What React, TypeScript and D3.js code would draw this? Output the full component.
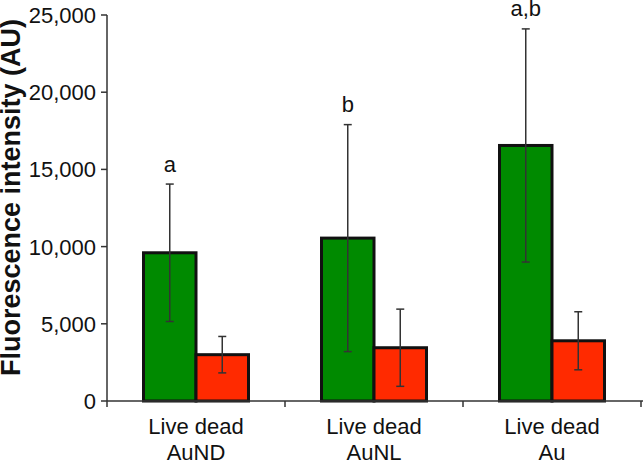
import React from "react";
import * as d3 from "d3";

const categories = ["AuND", "AuNL", "Au"];
const series = ["Live", "dead"];
const liveValues = [9600, 10550, 16550];
const liveErrors = [4450, 7350, 7550];
const deadValues = [3000, 3450, 3900];
const deadErrors = [1180, 2500, 1880];
const sigLabels = ["a", "b", "a,b"];
const yTicks = [0, 5000, 10000, 15000, 20000, 25000];

const W = 643;
const H = 462;
const left = 107;
const right = 641;
const top = 15;
const bottom = 401;
const font = "'Liberation Sans', Arial, sans-serif";
const colors = ["#008a00", "#ff2a00"];

export default function App() {
  const x = d3.scaleBand<string>().domain(categories).range([left, right]).padding(0);
  const y = d3.scaleLinear().domain([0, 25000]).range([bottom, top]);
  const groupW = 105;
  const inner = d3.scaleBand<string>().domain(series).range([0, groupW]).padding(0);
  const fmt = d3.format(",");
  const vals = [liveValues, deadValues];
  const errs = [liveErrors, deadErrors];

  return (
    <svg width={W} height={H} style={{ position: "absolute", left: 0, top: 0 }} fontFamily={font}>
      <rect width={W} height={H} fill="#fff" />
      {categories.map((c, i) => {
        const gx = (x(c) as number) + (x.bandwidth() - groupW) / 2;
        return (
          <g key={c}>
            {series.map((s, si) => {
              const bx = gx + (inner(s) as number);
              const v = vals[si][i];
              const e = errs[si][i];
              const cx = bx + inner.bandwidth() / 2;
              return (
                <g key={s}>
                  <rect x={bx} y={y(v)} width={inner.bandwidth()} height={y(0) - y(v)} fill={colors[si]} stroke="#111" strokeWidth={3} />
                  <line x1={cx} x2={cx} y1={y(v + e)} y2={y(v - e)} stroke="#333" strokeWidth={1.5} />
                  <line x1={cx - 4} x2={cx + 4} y1={y(v + e)} y2={y(v + e)} stroke="#333" strokeWidth={1.5} />
                  <line x1={cx - 4} x2={cx + 4} y1={y(v - e)} y2={y(v - e)} stroke="#333" strokeWidth={1.5} />
                  {si === 0 && (
                    <text x={cx} y={y(v + e) - 12.5} textAnchor="middle" fontSize={22} fill="#111">
                      {sigLabels[i]}
                    </text>
                  )}
                </g>
              );
            })}
            <text x={(x(c) as number) + x.bandwidth() / 2} y={434} textAnchor="middle" fontSize={22} fill="#111">
              Live dead
            </text>
            <text x={(x(c) as number) + x.bandwidth() / 2} y={460} textAnchor="middle" fontSize={22} fill="#111">
              {c}
            </text>
          </g>
        );
      })}
      <line x1={left} x2={left} y1={top} y2={bottom} stroke="#333" strokeWidth={1.5} />
      <line x1={left} x2={W} y1={bottom} y2={bottom} stroke="#333" strokeWidth={1.5} />
      {yTicks.map((t) => (
        <g key={t}>
          <line x1={left - 6} x2={left} y1={y(t)} y2={y(t)} stroke="#333" strokeWidth={1.5} />
          <text x={left - 11} y={y(t)} dy="0.36em" textAnchor="end" fontSize={22} fill="#111">
            {fmt(t)}
          </text>
        </g>
      ))}
      {categories.map((c) => (
        <line key={c} x1={x(c) as number} x2={x(c) as number} y1={bottom} y2={bottom + 6} stroke="#333" strokeWidth={1.5} />
      ))}
      <line x1={right} x2={right} y1={bottom} y2={bottom + 6} stroke="#333" strokeWidth={1.5} />
      <text transform={`translate(20,${(15 + 380) / 2}) rotate(-90)`} textAnchor="middle" fontSize={27} fontWeight="bold" fill="#111">
        Fluorescence intensity (AU)
      </text>
    </svg>
  );
}
